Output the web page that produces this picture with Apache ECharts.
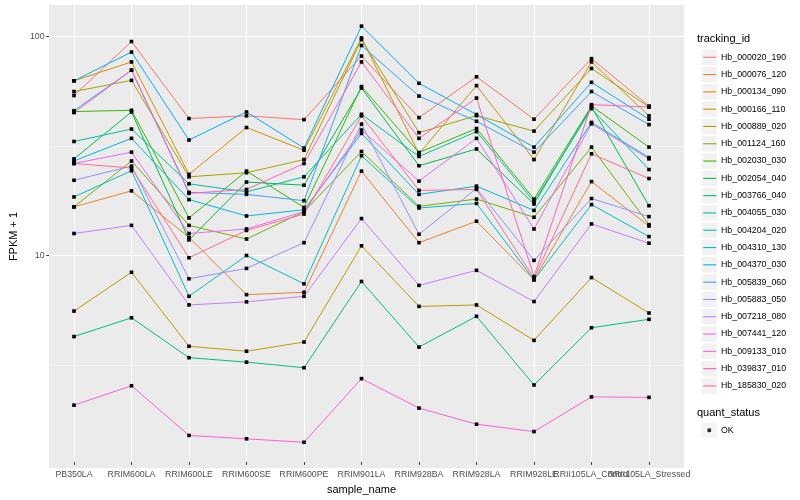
<!DOCTYPE html>
<html>
<head>
<meta charset="utf-8">
<script src="https://cdn.jsdelivr.net/npm/echarts@6/dist/echarts.min.js"></script>
<style>html,body{margin:0;padding:0;background:#fff;}#c{width:800px;height:500px;}</style>
</head>
<body>
<div id="c"></div>
<script>
const categories = ['PB350LA','RRIM600LA','RRIM600LE','RRIM600SE','RRIM600PE','RRIM901LA','RRIM928BA','RRIM928LA','RRIM928LE','RRII105LA_Control','RRII105LA_Stressed'];
const trackingIds = ['Hb_000020_190','Hb_000076_120','Hb_000134_090','Hb_000166_110','Hb_000889_020','Hb_001124_160','Hb_002030_030','Hb_002054_040','Hb_003766_040','Hb_004055_030','Hb_004204_020','Hb_004310_130','Hb_004370_030','Hb_005839_060','Hb_005883_050','Hb_007218_080','Hb_007441_120','Hb_009133_010','Hb_039837_010','Hb_185830_020'];
const yTickValues = [10, 100];
const minorGridValues = [3.162, 31.62];

const hb_000020_190 = [53.0, 94.2, 41.5, 42.7, 41.0, 80.7, 41.9, 64.7, 41.2, 78.5, 47.4];
const hb_000076_120 = [16.2, 19.2, 11.7, 6.36, 6.52, 23.7, 11.06, 13.9, 7.45, 21.2, 13.2];
const hb_000134_090 = [62.0, 75.8, 22.9, 37.7, 29.6, 97.9, 28.5, 58.9, 26.8, 75.8, 42.7];
const hb_000166_110 = [5.34, 8.07, 3.67, 3.48, 3.84, 10.7, 5.61, 5.70, 3.91, 7.63, 5.23];
const hb_000889_020 = [55.3, 62.3, 22.3, 23.3, 26.8, 96.2, 35.7, 42.8, 36.3, 70.7, 46.9];
const hb_001124_160 = [16.2, 26.4, 13.3, 11.5, 15.4, 29.2, 16.3, 17.6, 14.5, 30.6, 13.4];
const hb_002030_030 = [44.7, 45.3, 14.4, 23.7, 16.1, 58.3, 28.9, 37.3, 17.6, 47.4, 30.6];
const hb_002054_040 = [27.0, 44.5, 11.4, 21.1, 20.4, 57.4, 25.1, 30.0, 16.7, 46.9, 16.4];
const hb_003766_040 = [4.07, 4.97, 3.25, 3.10, 2.92, 7.32, 3.64, 5.05, 2.43, 4.47, 4.89];
const hb_004055_030 = [32.5, 37.1, 20.7, 19.0, 22.3, 43.4, 27.7, 36.1, 17.1, 46.1, 24.1];
const hb_004204_020 = [18.0, 23.8, 6.25, 9.65, 7.14, 27.9, 16.0, 16.8, 7.45, 16.6, 11.8];
const hb_004310_130 = [26.4, 33.6, 17.5, 14.7, 15.7, 35.4, 18.5, 20.2, 15.6, 39.8, 27.4];
const hb_004370_030 = [62.0, 84.2, 33.0, 44.5, 30.3, 111, 60.4, 43.3, 30.6, 61.0, 41.2];
const hb_005839_060 = [45.1, 69.4, 18.9, 18.5, 17.3, 90.3, 52.7, 40.3, 29.0, 55.3, 38.9];
const hb_005883_050 = [21.5, 25.0, 7.53, 8.41, 11.06, 39.1, 12.1, 19.7, 9.16, 17.7, 14.6];
const hb_007218_080 = [12.2, 13.3, 5.70, 5.89, 6.25, 14.3, 7.02, 8.24, 5.91, 13.5, 11.0];
const hb_007441_120 = [25.7, 29.0, 12.2, 12.8, 15.4, 36.7, 21.3, 33.6, 12.8, 39.2, 27.0];
const hb_009133_010 = [1.96, 2.41, 1.42, 1.37, 1.32, 2.60, 1.90, 1.60, 1.48, 2.14, 2.13];
const hb_039837_010 = [44.2, 69.4, 18.7, 19.5, 25.7, 75.8, 33.6, 51.6, 7.71, 48.1, 46.9];
const hb_185830_020 = [25.7, 24.5, 9.42, 12.6, 15.0, 42.7, 19.3, 19.5, 7.58, 28.5, 21.9];

const seriesValues = [hb_000020_190, hb_000076_120, hb_000134_090, hb_000166_110, hb_000889_020, hb_001124_160, hb_002030_030, hb_002054_040, hb_003766_040, hb_004055_030, hb_004204_020, hb_004310_130, hb_004370_030, hb_005839_060, hb_005883_050, hb_007218_080, hb_007441_120, hb_009133_010, hb_039837_010, hb_185830_020];

const palette = ['#F8766D','#EA8331','#D89000','#C09B00','#A3A500','#7CAE00','#39B600','#00BB4E','#00BF7D','#00C1A3','#00BFC4','#00BAE0','#00B0F6','#35A2FF','#9590FF','#C77CFF','#E76BF3','#FA62DB','#FF62BC','#FF6C91'];

const FONT = 'Liberation Sans, Arial, sans-serif';
const Y_MIN = 1.069, Y_MAX = 139;

const chart = echarts.init(document.getElementById('c'), null, {renderer: 'canvas'});

const dataSeries = trackingIds.map((id, i) => ({
  name: id,
  type: 'line',
  xAxisIndex: 1,
  yAxisIndex: 1,
  data: seriesValues[i],
  symbol: 'rect',
  symbolSize: 3.6,
  showSymbol: true,
  itemStyle: {color: '#000'},
  lineStyle: {color: palette[i], width: 1},
  emphasis: {disabled: true},
  z: 3,
  silent: true,
  animation: false
}));

const option = {
  animation: false,
  textStyle: {fontFamily: FONT},
  title: [
    {text: 'tracking_id', left: 697, top: 32, padding: 0, textStyle: {fontFamily: FONT, fontSize: 11, fontWeight: 'normal', color: '#000', lineHeight: 13}},
    {text: 'quant_status', left: 697, top: 406, padding: 0, textStyle: {fontFamily: FONT, fontSize: 11, fontWeight: 'normal', color: '#000', lineHeight: 13}}
  ],
  grid: [
    {left: 39.5, right: 116, top: 5, bottom: 32, show: true, backgroundColor: '#EBEBEB', borderWidth: 0, containLabel: false},
    {left: 45.25, right: 122.25, top: 5, bottom: 32, show: false, containLabel: false}
  ],
  xAxis: [
    {gridIndex: 0, type: 'value', min: 0, max: 1, show: false},
    {gridIndex: 1, type: 'category', data: categories, boundaryGap: true,
     axisLine: {show: false},
     axisTick: {show: true, alignWithLabel: true, length: 2.75, lineStyle: {color: '#333333', width: 1}},
     axisLabel: {show: true, interval: 0, fontSize: 8.8, color: '#4D4D4D', margin: 8, fontFamily: FONT, hideOverlap: false},
     splitLine: {show: false},
     name: 'sample_name', nameLocation: 'middle', nameGap: 20.5,
     nameTextStyle: {fontSize: 11, color: '#000', fontFamily: FONT}}
  ],
  yAxis: [
    {gridIndex: 0, type: 'log', logBase: 10, min: Y_MIN, max: Y_MAX,
     axisLine: {show: false},
     axisTick: {show: true, length: 2.75, lineStyle: {color: '#333333', width: 1}},
     axisLabel: {show: true, fontSize: 8.8, color: '#4D4D4D', margin: 4.5, fontFamily: FONT, showMinLabel: false, showMaxLabel: false},
     splitLine: {show: true, showMinLine: false, showMaxLine: false, lineStyle: {color: '#FFFFFF', width: 1.1}},
     minorTick: {show: false}, minorSplitLine: {show: false},
     name: 'FPKM + 1', nameLocation: 'middle', nameGap: 27, nameRotate: 90,
     nameTextStyle: {fontSize: 11, color: '#000', fontFamily: FONT}},
    {gridIndex: 1, type: 'log', logBase: 10, min: Y_MIN, max: Y_MAX, show: false}
  ],
  legend: [
    {orient: 'vertical', left: 696.5, top: 44.5, itemWidth: 15.5, itemHeight: 15.5, itemGap: 1.8,
     icon: 'rect', selectedMode: false,
     data: trackingIds.map(id => ({name: id, itemStyle: {color: '#F2F2F2', borderWidth: 0}})),
     textStyle: {fontSize: 8.8, color: '#000', fontFamily: FONT, padding: [0, 0, 0, -1]}},
    {orient: 'vertical', left: 698.3, top: 51.7, itemWidth: 13, itemHeight: 1.1, itemGap: 16.2,
     icon: 'rect', selectedMode: false, formatter: ' ',
     data: trackingIds.map((id, i) => ({name: id, itemStyle: {color: palette[i], borderWidth: 0}})),
     textStyle: {fontSize: 1, lineHeight: 1}},
    {orient: 'vertical', left: 696.5, top: 417.5, itemWidth: 15.5, itemHeight: 15.5,
     icon: 'rect', selectedMode: false,
     data: [{name: 'OK', itemStyle: {color: '#F2F2F2', borderWidth: 0}}],
     textStyle: {fontSize: 8.8, color: '#000', fontFamily: FONT, padding: [0, 0, 0, -1]}},
    {orient: 'vertical', left: 702.4, top: 423.4, itemWidth: 3.7, itemHeight: 3.7,
     icon: 'rect', selectedMode: false, formatter: ' ',
     data: [{name: 'OK', itemStyle: {color: '#000', borderWidth: 0}}],
     textStyle: {fontSize: 1, lineHeight: 1}}
  ],
  series: [
    {name: '_minorgrid', type: 'line', xAxisIndex: 0, yAxisIndex: 0, data: [], silent: true, z: 1,
     markLine: {z: 1, silent: true, symbol: 'none', animation: false, label: {show: false},
       lineStyle: {color: '#FFFFFF', width: 0.55, type: 'solid'},
       emphasis: {disabled: true},
       data: minorGridValues.map(v => ({yAxis: v}))}},
    {name: '_vgrid', type: 'line', xAxisIndex: 1, yAxisIndex: 1, data: [], silent: true, z: 1,
     markLine: {z: 1, silent: true, symbol: 'none', animation: false, label: {show: false},
       lineStyle: {color: '#FFFFFF', width: 1.1, type: 'solid'},
       emphasis: {disabled: true},
       data: categories.map(c => ({xAxis: c}))}},
    {name: 'OK', type: 'scatter', xAxisIndex: 1, yAxisIndex: 1, data: [], symbol: 'rect', itemStyle: {color: '#000'}, silent: true}
  ].concat(dataSeries)
};
chart.setOption(option);
</script>
</body>
</html>
